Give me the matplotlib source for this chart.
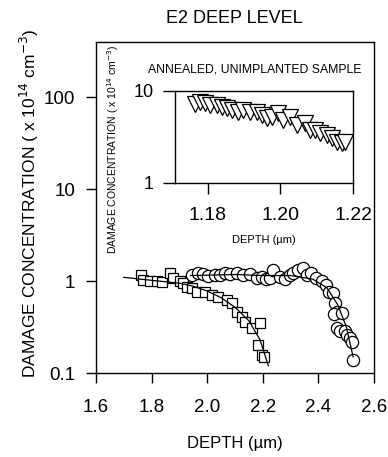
import matplotlib
matplotlib.use("Agg")
import matplotlib.pyplot as plt
from matplotlib.ticker import FixedLocator, NullLocator

plt.rcParams['font.family'] = ['Liberation Sans', 'DejaVu Sans']

# squares (first implanted profile)
sq_depth = [1.762, 1.769, 1.794, 1.819, 1.837, 1.866, 1.877, 1.902, 1.913, 1.927,
            1.945, 1.963, 1.992, 2.017, 2.039, 2.071, 2.089, 2.107, 2.125, 2.136,
            2.161, 2.190, 2.183, 2.197, 2.204]
sq_conc = [1.16, 1.03, 1.00, 1.00, 0.98, 1.22, 1.07, 1.00, 0.95, 0.86,
           0.84, 0.76, 0.76, 0.70, 0.67, 0.62, 0.58, 0.46, 0.41, 0.36,
           0.31, 0.35, 0.20, 0.157, 0.149]
sq_fit_depth = [1.70, 1.80, 1.90, 1.95, 2.00, 2.05, 2.10, 2.15, 2.19, 2.22]
sq_fit_conc = [1.10, 1.02, 0.95, 0.88, 0.78, 0.66, 0.52, 0.37, 0.23, 0.12]

# circles (second implanted profile)
ci_depth = [1.945, 1.967, 1.985, 2.003, 2.028, 2.046, 2.064, 2.082, 2.107, 2.129,
            2.154, 2.179, 2.197, 2.212, 2.226, 2.237, 2.262, 2.280, 2.298, 2.309,
            2.327, 2.345, 2.359, 2.373, 2.391, 2.413, 2.427, 2.438, 2.453, 2.460,
            2.467, 2.456, 2.485, 2.467, 2.478, 2.496, 2.503, 2.514, 2.521, 2.524]
ci_conc = [1.16, 1.22, 1.19, 1.13, 1.16, 1.16, 1.22, 1.19, 1.22, 1.16,
           1.19, 1.08, 1.11, 1.05, 1.08, 1.32, 1.11, 1.05, 1.16, 1.22,
           1.32, 1.39, 1.16, 1.22, 1.08, 1.00, 0.91, 0.76, 0.74, 0.58,
           0.46, 0.44, 0.45, 0.31, 0.29, 0.29, 0.26, 0.24, 0.22, 0.14]
ci_fit_depth = [1.94, 2.10, 2.20, 2.30, 2.38, 2.43, 2.47, 2.50, 2.525]
ci_fit_conc = [1.15, 1.18, 1.15, 1.15, 1.05, 0.85, 0.55, 0.32, 0.15]

# inset: annealed, unimplanted sample
in_depth = [1.1765, 1.1779, 1.1793, 1.1806, 1.1826, 1.1839, 1.1853, 1.1867, 1.1883, 1.1897,
            1.1916, 1.1936, 1.1949, 1.1963, 1.1977, 1.1994, 1.2007, 1.2027, 1.2046, 1.2068,
            1.2082, 1.2095, 1.2109, 1.2128, 1.2142, 1.2156, 1.2170, 1.2178]
in_conc = [7.2, 7.6, 7.4, 7.0, 7.0, 6.7, 6.5, 6.2, 5.9, 6.2,
           5.9, 5.9, 5.5, 5.1, 5.2, 5.8, 4.8, 5.2, 4.3, 4.5,
           3.8, 3.8, 3.5, 3.3, 3.1, 2.8, 2.7, 2.8]

main_yticks = [0.1, 1, 10, 100]
main_ylabels = ["0.1", "1", "10", "100"]
main_xticks = [1.6, 1.8, 2.0, 2.2, 2.4, 2.6]
in_xticks = [1.18, 1.20, 1.22]
in_yticks = [1, 10]

fig = plt.figure(figsize=(3.88, 4.57), dpi=100)
ax = fig.add_axes([0.2474, 0.1838, 0.7165, 0.7242])

ax.plot(sq_fit_depth, sq_fit_conc, color='black', lw=0.9, zorder=3)
ax.plot(ci_fit_depth, ci_fit_conc, color='black', lw=0.9, zorder=3)
ax.plot(sq_depth, sq_conc, 's', ms=6.8, mfc='white', mec='black', mew=0.9,
        linestyle='none', zorder=2)
ax.plot(ci_depth, ci_conc, 'o', ms=8.8, mfc='white', mec='black', mew=0.9,
        linestyle='none', zorder=2)

ax.set_yscale('log')
ax.set_xlim(1.6, 2.6)
ax.set_ylim(0.1, 400)
ax.yaxis.set_major_locator(FixedLocator(main_yticks))
ax.yaxis.set_minor_locator(NullLocator())
ax.set_yticklabels(main_ylabels)
ax.set_xticks(main_xticks)
ax.set_xticklabels([f"{v:.1f}" for v in main_xticks])
ax.tick_params(direction='out', length=7, width=1, labelsize=13.5)
ax.tick_params(axis='y', pad=8)
ax.tick_params(axis='x', pad=12)
for s in ax.spines.values():
    s.set_linewidth(1)
ax.set_xlabel("DEPTH (µm)", fontsize=12, labelpad=14)
fig.text(0.075, 0.555, "DAMAGE CONCENTRATION ( x 10$^{14}$ cm$^{-3}$)",
         rotation=90, ha='center', va='center', fontsize=12.5)
fig.text(0.605, 0.96, "E2 DEEP LEVEL", ha='center', va='center', fontsize=13)

# inset
axi = fig.add_axes([0.451, 0.5996, 0.4588, 0.2013])
axi.plot(in_depth, in_conc, 'v', ms=11, mfc='white', mec='black', mew=0.9,
         linestyle='none')
axi.set_yscale('log')
axi.set_xlim(1.171, 1.22)
axi.set_ylim(1, 10)
axi.yaxis.set_major_locator(FixedLocator(in_yticks))
axi.yaxis.set_minor_locator(NullLocator())
axi.set_yticklabels(["1", "10"])
axi.set_xticks(in_xticks)
axi.set_xticklabels([f"{v:.2f}" for v in in_xticks])
axi.tick_params(axis='y', direction='out', length=8.5, width=1, labelsize=13, pad=7)
axi.tick_params(axis='x', direction='out', length=8, width=1, labelsize=14, pad=9)
for s in axi.spines.values():
    s.set_linewidth(1)
axi.set_xlabel("DEPTH (µm)", fontsize=8, labelpad=8)
fig.text(0.657, 0.849, "ANNEALED, UNIMPLANTED SAMPLE", ha='center', va='center',
         fontsize=8.8)
fig.text(0.291, 0.674, "DAMAGE CONCENTRATION ( x 10$^{14}$ cm$^{-3}$)",
         rotation=90, ha='center', va='center', fontsize=7.5)

fig.savefig("out.png", dpi=100)
